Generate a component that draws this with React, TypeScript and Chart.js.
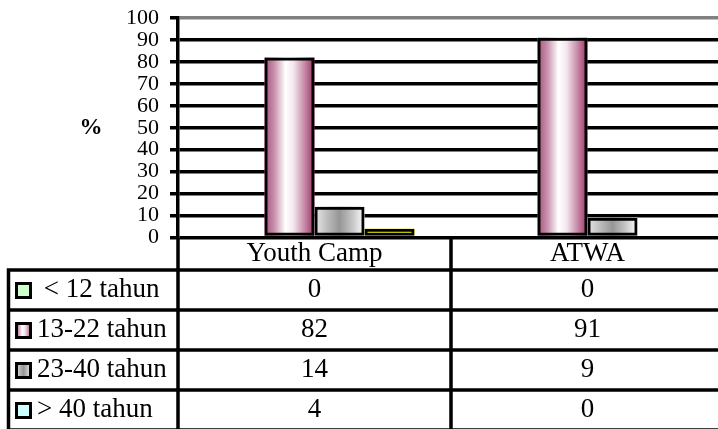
import React, { useEffect, useRef } from 'react';
import { Chart, registerables } from 'chart.js';

Chart.register(...registerables);

// Respondent age groups per event, in percent
const groups = ['Youth Camp', 'ATWA'];
const ageBands = [' < 12 tahun', '13-22 tahun', '23-40 tahun', '> 40 tahun'];
const under12 = [0, 0];
const age13to22 = [82, 91];
const age23to40 = [14, 9];
const over40 = [4, 0];
const seriesValues = [under12, age13to22, age23to40, over40];

const axisTitle = '%';
const yMin = 0;
const yMax = 100;
const yStep = 10;

const SERIF = '"Liberation Serif", "Times New Roman", "DejaVu Serif", serif';
const CANVAS_W = 730;
const CANVAS_H = 429;
const RULE = 3.5;

type Fill = { kind: 'solid'; color: string } | { kind: 'shade'; stops: [number, string][] };

const purpleShade: Fill = {
  kind: 'shade',
  stops: [
    [0, '#a3507a'],
    [0.2, '#c992ad'],
    [0.42, '#ffffff'],
    [0.58, '#f3e6ee'],
    [0.8, '#c78aa8'],
    [1, '#993366'],
  ],
};
const grayShade: Fill = {
  kind: 'shade',
  stops: [
    [0, '#e8e8e8'],
    [0.25, '#bdbdbd'],
    [0.5, '#969696'],
    [0.75, '#c4c4c4'],
    [1, '#ffffff'],
  ],
};

// fill of each series' bars and of its key square in the data table
const barFills: Fill[] = [
  { kind: 'solid', color: '#ccffcc' },
  purpleShade,
  grayShade,
  { kind: 'solid', color: '#ffff00' },
];
const keyFills: Fill[] = [
  { kind: 'solid', color: '#ccffcc' },
  purpleShade,
  grayShade,
  { kind: 'solid', color: '#ccffff' },
];

function paint(ctx: CanvasRenderingContext2D, fill: Fill, x: number, y: number, w: number, h: number) {
  if (fill.kind === 'solid') {
    ctx.fillStyle = fill.color;
  } else {
    const g = ctx.createLinearGradient(x, 0, x + w, 0);
    fill.stops.forEach(([o, c]) => g.addColorStop(o, c));
    ctx.fillStyle = g;
  }
  ctx.fillRect(x, y, w, h);
}

// paints the shaded faces of the bars underneath Chart.js' own borders
const barFacePlugin = {
  id: 'barFaces',
  beforeDatasetsDraw(chart: any) {
    const ctx: CanvasRenderingContext2D = chart.ctx;
    ctx.save();
    chart.data.datasets.forEach((_ds: any, di: number) => {
      const meta = chart.getDatasetMeta(di);
      meta.data.forEach((el: any) => {
        const { x, y, base, width } = el.getProps(['x', 'y', 'base', 'width'], true);
        const h = base - y;
        if (h <= 0) return;
        paint(ctx, barFills[di], x - width / 2, y, width, h);
      });
    });
    ctx.restore();
  },
};

// data table under the plot: group names, key squares, band names and values
const dataTablePlugin = {
  id: 'dataTable',
  afterDraw(chart: any) {
    const ctx: CanvasRenderingContext2D = chart.ctx;
    const area = chart.chartArea;
    const xs = chart.scales.x;
    const centers = groups.map((_, i) => xs.getPixelForValue(i));
    const divider = (centers[0] + centers[1]) / 2;
    const headTop = area.bottom;
    const headBottom = 270;
    const rowH = 40;
    const tableLeft = 8.5;
    const tableBottom = headBottom + rowH * ageBands.length;

    ctx.save();
    ctx.strokeStyle = '#000';
    ctx.lineWidth = RULE;
    ctx.beginPath();
    for (let r = 0; r <= ageBands.length; r++) {
      const y = headBottom + r * rowH;
      ctx.moveTo(tableLeft - RULE / 2, y);
      ctx.lineTo(chart.width, y);
    }
    ctx.moveTo(tableLeft, headBottom);
    ctx.lineTo(tableLeft, tableBottom);
    ctx.moveTo(area.left, headTop);
    ctx.lineTo(area.left, tableBottom);
    ctx.moveTo(divider, headTop);
    ctx.lineTo(divider, tableBottom);
    ctx.stroke();

    ctx.fillStyle = '#000';
    ctx.font = `27px ${SERIF}`;
    ctx.textBaseline = 'middle';
    ctx.textAlign = 'center';
    groups.forEach((g, i) => ctx.fillText(g, centers[i], (headTop + headBottom) / 2 + 0.5));

    ageBands.forEach((band, r) => {
      const cy = headBottom + r * rowH + rowH / 2;
      ctx.textAlign = 'center';
      ctx.fillStyle = '#000';
      seriesValues[r].forEach((v, i) => ctx.fillText(String(v), centers[i], cy));

      const kx = 15;
      const ky = cy - 8;
      const ks = 17;
      paint(ctx, keyFills[r], kx, ky, ks, ks);
      ctx.lineWidth = 3;
      ctx.strokeStyle = '#000';
      ctx.strokeRect(kx + 1.5, ky + 1.5, ks - 3, ks - 3);

      ctx.textAlign = 'left';
      ctx.fillStyle = '#000';
      ctx.fillText(band, 37, cy);
    });

    ctx.font = `bold 23px ${SERIF}`;
    ctx.textAlign = 'center';
    ctx.fillText(axisTitle, 91, 128);
    ctx.restore();
  },
};

export default function App() {
  const canvasRef = useRef<HTMLCanvasElement | null>(null);

  useEffect(() => {
    let chart: Chart | null = null;
    let cancelled = false;

    const build = () => {
      if (cancelled || !canvasRef.current) return;
      Chart.defaults.font.family = SERIF;
      chart = new Chart(canvasRef.current, {
        type: 'bar',
        data: {
          labels: groups,
          datasets: ageBands.map((band, i) => ({
            label: band.trim(),
            data: seriesValues[i],
            backgroundColor: 'rgba(0,0,0,0)',
            borderColor: '#000',
            borderWidth: 3,
            borderSkipped: false,
            categoryPercentage: 0.733,
            barPercentage: 1,
          })),
        },
        options: {
          responsive: false,
          animation: false,
          events: [],
          layout: { padding: { top: 18, right: 6, bottom: 191.5, left: 0 } },
          plugins: {
            legend: { display: false },
            tooltip: { enabled: false },
            title: { display: false },
          },
          scales: {
            x: {
              display: false,
              grid: { display: false },
            },
            y: {
              min: yMin,
              max: yMax,
              ticks: {
                stepSize: yStep,
                autoSkip: false,
                color: '#000',
                font: { size: 22, family: SERIF },
                padding: 11,
              },
              grid: {
                color: (c: any) => (c.tick && c.tick.value === yMax ? '#808080' : '#000'),
                lineWidth: RULE,
                tickLength: 8,
                tickColor: '#000',
                tickWidth: RULE,
              },
              border: { display: true, color: '#000', width: RULE },
              afterFit: (s: any) => {
                s.width = 178;
                s.paddingTop = 0;
                s.paddingBottom = 0;
              },
            },
          },
        },
        plugins: [barFacePlugin, dataTablePlugin],
      });
    };

    const fonts = (document as any).fonts;
    if (fonts && fonts.load) {
      Promise.all([
        fonts.load('27px "Liberation Serif"'),
        fonts.load('bold 23px "Liberation Serif"'),
      ])
        .catch(() => undefined)
        .then(build);
    } else {
      build();
    }

    return () => {
      cancelled = true;
      if (chart) chart.destroy();
    };
  }, []);

  return (
    <div
      style={{
        position: 'fixed',
        left: 0,
        top: 0,
        width: 718,
        height: 429,
        overflow: 'hidden',
        background: '#fff',
      }}
    >
      <canvas ref={canvasRef} width={CANVAS_W} height={CANVAS_H} style={{ display: 'block' }} />
    </div>
  );
}
